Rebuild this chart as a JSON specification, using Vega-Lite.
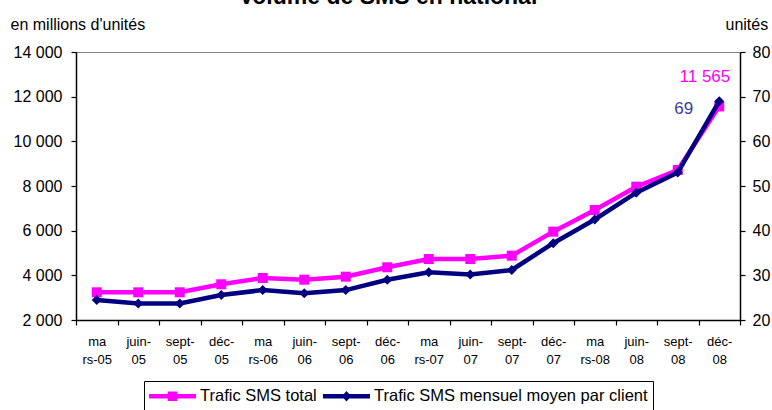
{
  "$schema": "https://vega.github.io/schema/vega-lite/v6.json",
  "autosize": {"type": "none"},
  "padding": {"left": 76, "top": 52, "right": 32, "bottom": 90},
  "width": 664,
  "height": 268,
  "background": "white",
  "config": {
    "font": "Liberation Sans",
    "locale": {"number": {"decimal": ",", "thousands": " ", "grouping": [3], "currency": ["", " €"]}},
    "view": {"stroke": "#808080", "strokeWidth": 1},
    "axis": {"grid": false, "domainColor": "black", "tickColor": "black", "labelColor": "black", "titleColor": "black", "labelFont": "Liberation Sans", "titleFont": "Liberation Sans", "domainWidth": 1.5, "tickWidth": 1.2}
  },
  "title": {
    "text": "Volume de SMS en national",
    "font": "Liberation Sans",
    "fontSize": 23,
    "fontWeight": "bold",
    "color": "black",
    "anchor": "middle",
    "frame": "group",
    "dx": -20,
    "dy": 11,
    "baseline": "alphabetic",
    "offset": 0
  },
  "data": {
    "values": [
      {"periode": "ma|rs-05", "total": 3240, "parClient": 24.5},
      {"periode": "juin-|05", "total": 3240, "parClient": 23.7},
      {"periode": "sept-|05", "total": 3240, "parClient": 23.7},
      {"periode": "déc-|05", "total": 3600, "parClient": 25.6},
      {"periode": "ma|rs-06", "total": 3880, "parClient": 26.7},
      {"periode": "juin-|06", "total": 3805, "parClient": 26.0},
      {"periode": "sept-|06", "total": 3940, "parClient": 26.7},
      {"periode": "déc-|06", "total": 4360, "parClient": 29.0},
      {"periode": "ma|rs-07", "total": 4730, "parClient": 30.7},
      {"periode": "juin-|07", "total": 4730, "parClient": 30.2},
      {"periode": "sept-|07", "total": 4880, "parClient": 31.2},
      {"periode": "déc-|07", "total": 5955, "parClient": 37.2},
      {"periode": "ma|rs-08", "total": 6925, "parClient": 42.5},
      {"periode": "juin-|08", "total": 7970, "parClient": 48.5},
      {"periode": "sept-|08", "total": 8717, "parClient": 53.0},
      {"periode": "déc-|08", "total": 11565, "parClient": 69}
    ]
  },
  "encoding": {
    "x": {
      "field": "periode",
      "type": "ordinal",
      "sort": null,
      "bandPosition": 0.5,
      "scale": {"type": "band", "paddingInner": 0, "paddingOuter": 0},
      "axis": {
        "title": null,
        "labelAngle": 0,
        "labelFontSize": 13,
        "labelLineHeight": 18,
        "tickBand": "extent",
        "tickSize": 5,
        "labelPadding": 10,
        "labelExpr": "split(datum.label, '|')"
      }
    }
  },
  "layer": [
    {
      "layer": [
        {
          "mark": {"type": "line", "strokeWidth": 4.5, "point": {"shape": "square", "size": 100, "filled": true, "color": "#ff00ff", "opacity": 1}},
          "encoding": {
            "y": {
              "field": "total",
              "type": "quantitative",
              "scale": {"domain": [2000, 14000], "nice": false, "zero": false},
              "axis": {
                "orient": "left",
                "values": [2000, 4000, 6000, 8000, 10000, 12000, 14000],
                "format": ",d",
                "labelFontSize": 16,
                "tickSize": 5,
                "labelPadding": 9,
                "title": "en millions d'unités",
                "titleFontSize": 16,
                "titleFontWeight": "normal",
                "titleAngle": 0,
                "titleAlign": "left",
                "titleBaseline": "alphabetic",
                "titleX": -66,
                "titleY": -23
              }
            },
            "color": {
              "datum": "Trafic SMS total",
              "type": "nominal",
              "scale": {"domain": ["Trafic SMS total", "Trafic SMS mensuel moyen par client"], "range": ["#ff00ff", "#000080"]},
              "legend": {
                "orient": "none",
                "legendX": 68,
                "legendY": 329,
                "direction": "horizontal",
                "title": null,
                "strokeColor": "black",
                "fillColor": "white",
                "padding": 5,
                "symbolSize": 400,
                "symbolStrokeWidth": 0,
                "symbolOpacity": 1,
                "symbolType": {"expr": "datum.value === 'Trafic SMS total' ? 'M-1,-0.22H3.7V0.22H-1Z M0.87,-0.48H1.83V0.48H0.87Z' : 'M-1,-0.22H3.7V0.22H-1Z M1.35,-0.52L1.82,0L1.35,0.52L0.88,0Z'"},
                "symbolFillColor": {"expr": "datum.value === 'Trafic SMS total' ? '#ff00ff' : '#000080'"},
                "labelOffset": 31,
                "labelLimit": 500,
                "columnPadding": 6,
                "labelFont": "Liberation Sans",
                "labelFontSize": 16.5,
                "labelColor": "black"
              }
            }
          }
        },
        {
          "transform": [{"filter": "datum.total > 11000"}],
          "mark": {"type": "text", "align": "right", "baseline": "alphabetic", "dx": 11, "dy": -24, "fontSize": 17, "color": "#ff00ff", "font": "Liberation Sans"},
          "encoding": {
            "y": {"field": "total", "type": "quantitative"},
            "text": {"field": "total", "type": "quantitative", "format": ",d"}
          }
        }
      ]
    },
    {
      "layer": [
        {
          "mark": {"type": "line", "strokeWidth": 4.5, "point": {"shape": "diamond", "size": 100, "filled": true, "color": "#000080", "opacity": 1}},
          "encoding": {
            "y": {
              "field": "parClient",
              "type": "quantitative",
              "scale": {"domain": [20, 80], "nice": false, "zero": false},
              "axis": {
                "orient": "right",
                "values": [20, 30, 40, 50, 60, 70, 80],
                "labelFontSize": 16,
                "tickSize": 5,
                "labelPadding": 7,
                "title": "unités",
                "titleFontSize": 16,
                "titleFontWeight": "normal",
                "titleAngle": 0,
                "titleAlign": "left",
                "titleBaseline": "alphabetic",
                "titleX": -15,
                "titleY": -23
              }
            },
            "color": {"datum": "Trafic SMS mensuel moyen par client", "type": "nominal"}
          }
        },
        {
          "transform": [{"filter": "datum.total > 11000"}],
          "mark": {"type": "text", "align": "right", "baseline": "alphabetic", "dx": -26, "dy": 13, "fontSize": 17, "color": "#3c3ca0", "font": "Liberation Sans"},
          "encoding": {
            "y": {"field": "parClient", "type": "quantitative"},
            "text": {"field": "parClient", "type": "quantitative", "format": "d"}
          }
        }
      ]
    }
  ],
  "resolve": {"scale": {"y": "independent"}}
}
